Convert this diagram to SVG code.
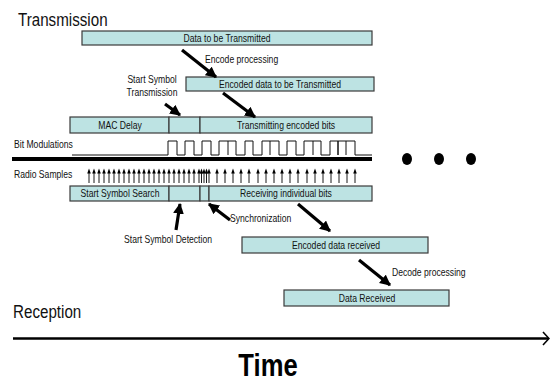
<svg xmlns="http://www.w3.org/2000/svg" xmlns:xlink="http://www.w3.org/1999/xlink" width="550" height="383" viewBox="0 0 550 383">
<style>
.t{font-family:"Liberation Sans",Arial,sans-serif;font-size:10.5px;fill:#111}
.h{font-family:"Liberation Sans",Arial,sans-serif;font-size:18.5px;fill:#111}
.box{fill:#bde3e3;stroke:#3a3a3a;stroke-width:1.2}
.conn{stroke:#000;stroke-width:3.2;fill:none;marker-end:url(#ah)}
.ra{stroke:#000;stroke-width:0.9}
</style>
<defs>
<marker id="ah" viewBox="0 0 10 10" refX="9" refY="5" markerWidth="3.4" markerHeight="3.4" orient="auto" markerUnits="strokeWidth">
<path d="M0,0 L10,5 L0,10 Z" fill="#000"/>
</marker>
<g id="ra"><line x1="0" y1="183" x2="0" y2="171" class="ra"/><path d="M-1.8,173.5 L0,168.5 L1.8,173.5 Z" fill="#000"/></g>
</defs>
<rect width="550" height="383" fill="#fff"/>

<text class="h" transform="translate(18,26) scale(0.82,1)">Transmission</text>

<g id="data-tx">
<rect class="box" x="82" y="31" width="290" height="14"/>
<text class="t" text-anchor="middle" transform="translate(227,41.5) scale(0.82,1)">Data to be Transmitted</text>
</g>
<g id="encode-label"><text class="t" transform="translate(205,63) scale(0.82,1)">Encode processing</text></g>
<g id="encoded-tx">
<rect class="box" x="186" y="77" width="188" height="14"/>
<text class="t" text-anchor="middle" transform="translate(280,87.5) scale(0.82,1)">Encoded data to be Transmitted</text>
</g>
<g id="start-symbol-tx-label">
<text class="t" text-anchor="middle" transform="translate(152,83) scale(0.82,1)">Start Symbol</text>
<text class="t" text-anchor="middle" transform="translate(152,96) scale(0.82,1)">Transmission</text>
</g>
<g id="tx-row">
<rect class="box" x="70" y="117" width="99" height="16"/>
<rect class="box" x="169" y="117" width="31" height="16"/>
<rect class="box" x="200" y="117" width="172" height="16"/>
<text class="t" text-anchor="middle" transform="translate(120,128.5) scale(0.82,1)">MAC Delay</text>
<text class="t" text-anchor="middle" transform="translate(286,128.5) scale(0.82,1)">Transmitting encoded bits</text>
</g>

<g id="bit-modulations">
<text class="t" transform="translate(14,148) scale(0.82,1)">Bit Modulations</text>
<path d="M72,155 H168 V141 H177 V155 H185 V141 H194 V155 H202 V141 H211 V155 H219 V141 H236 V155 H245 V141 H253 V155 H262 V141 H279 V155 H287 V141 H296 V155 H304 V141 H321 V155 H330 V141 H338 V155 H338 V141 H355 V155 H372" fill="none" stroke="#111" stroke-width="1"/>
<path d="M228,141 V155 M270,141 V155 M313,141 V155 M346,141 V155" stroke="#111" stroke-width="1"/>
<line x1="12" y1="159" x2="372" y2="159" stroke="#000" stroke-width="4"/>
</g>
<g id="ellipsis">
<ellipse cx="407" cy="159" rx="5" ry="6" fill="#000"/>
<ellipse cx="439" cy="159" rx="5" ry="6" fill="#000"/>
<ellipse cx="471" cy="159" rx="5" ry="6" fill="#000"/>
</g>

<g id="radio-samples">
<text class="t" transform="translate(14,178) scale(0.82,1)">Radio Samples</text>
<use xlink:href="#ra" x="89"/><use xlink:href="#ra" x="94"/><use xlink:href="#ra" x="99"/><use xlink:href="#ra" x="104"/><use xlink:href="#ra" x="109"/><use xlink:href="#ra" x="114"/><use xlink:href="#ra" x="119"/><use xlink:href="#ra" x="124"/><use xlink:href="#ra" x="129"/><use xlink:href="#ra" x="134"/><use xlink:href="#ra" x="139"/><use xlink:href="#ra" x="144"/><use xlink:href="#ra" x="149"/><use xlink:href="#ra" x="154"/><use xlink:href="#ra" x="159"/><use xlink:href="#ra" x="164"/><use xlink:href="#ra" x="169"/><use xlink:href="#ra" x="174"/><use xlink:href="#ra" x="179"/><use xlink:href="#ra" x="184"/><use xlink:href="#ra" x="189"/><use xlink:href="#ra" x="194"/><use xlink:href="#ra" x="199"/>
<use xlink:href="#ra" x="201.5"/><use xlink:href="#ra" x="204"/><use xlink:href="#ra" x="206.5"/>
<use xlink:href="#ra" x="209"/><use xlink:href="#ra" x="217"/><use xlink:href="#ra" x="225"/><use xlink:href="#ra" x="233"/><use xlink:href="#ra" x="241"/><use xlink:href="#ra" x="249"/><use xlink:href="#ra" x="258"/><use xlink:href="#ra" x="266"/><use xlink:href="#ra" x="274"/><use xlink:href="#ra" x="282"/><use xlink:href="#ra" x="290"/><use xlink:href="#ra" x="298"/><use xlink:href="#ra" x="307"/><use xlink:href="#ra" x="315"/><use xlink:href="#ra" x="323"/><use xlink:href="#ra" x="331"/><use xlink:href="#ra" x="339"/><use xlink:href="#ra" x="347"/><use xlink:href="#ra" x="355"/>
</g>

<g id="rx-row">
<rect class="box" x="70" y="186" width="99" height="15"/>
<rect class="box" x="169" y="186" width="31" height="15"/>
<rect class="box" x="200" y="186" width="9" height="15"/>
<rect class="box" x="209" y="186" width="163" height="15"/>
<text class="t" text-anchor="middle" transform="translate(120,197) scale(0.82,1)">Start Symbol Search</text>
<text class="t" text-anchor="middle" transform="translate(286,197) scale(0.82,1)">Receiving individual bits</text>
</g>
<g id="sync-label"><text class="t" transform="translate(230,222) scale(0.82,1)">Synchronization</text></g>
<g id="ssd-label"><text class="t" text-anchor="middle" transform="translate(168,243) scale(0.82,1)">Start Symbol Detection</text></g>
<g id="encoded-rx">
<rect class="box" x="242" y="237" width="186" height="16"/>
<text class="t" text-anchor="middle" transform="translate(336,248.5) scale(0.82,1)">Encoded data received</text>
</g>
<g id="decode-label"><text class="t" transform="translate(392,276) scale(0.82,1)">Decode processing</text></g>
<g id="data-rx">
<rect class="box" x="284" y="290" width="165" height="16"/>
<text class="t" text-anchor="middle" transform="translate(367,301.5) scale(0.82,1)">Data Received</text>
</g>

<g id="connectors">
<line class="conn" x1="182" y1="50" x2="216" y2="77"/>
<line class="conn" x1="165" y1="104" x2="180" y2="115"/>
<line class="conn" x1="223" y1="93" x2="255" y2="117"/>
<line class="conn" x1="176" y1="230" x2="180" y2="204"/>
<line class="conn" x1="230" y1="220" x2="209" y2="204"/>
<line class="conn" x1="298" y1="204" x2="330" y2="231"/>
<line class="conn" x1="359" y1="260" x2="390" y2="285"/>
</g>

<text class="h" transform="translate(13,318) scale(0.82,1)">Reception</text>
<g id="time-axis">
<line x1="13" y1="338.5" x2="548" y2="338.5" stroke="#000" stroke-width="2.5"/>
<path d="M543,332 L549,338.5 L543,345" fill="none" stroke="#000" stroke-width="1.6"/>
</g>
<text transform="translate(268,376) scale(0.8,1)" text-anchor="middle" font-family="Liberation Sans, Arial, sans-serif" font-weight="bold" font-size="32" fill="#000">Time</text>
</svg>
